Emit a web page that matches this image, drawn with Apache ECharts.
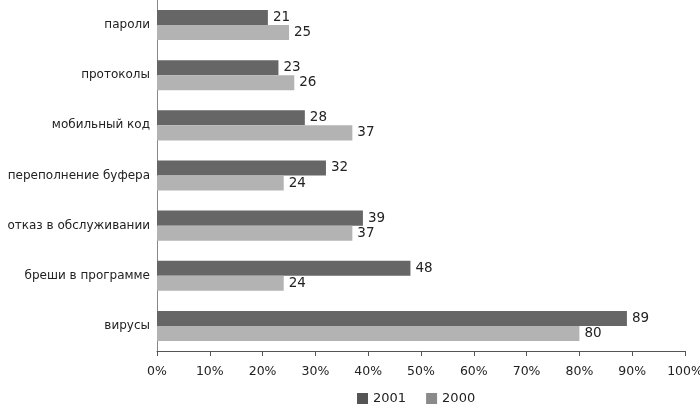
<!DOCTYPE html>
<html><head><meta charset="utf-8">
<script src="https://cdn.jsdelivr.net/npm/echarts@6/dist/echarts.min.js"></script>
<style>html,body{margin:0;padding:0;background:#fff}#c{width:700px;height:412px}</style>
</head><body><div id="c"></div>
<script>
const categories = ['пароли','протоколы','мобильный код','переполнение буфера','отказ в обслуживании','бреши в программе','вирусы'];
const values2001 = [21,23,28,32,39,48,89];
const values2000 = [25,26,37,24,37,24,80];
const xTicks = [0,10,20,30,40,50,60,70,80,90,100];
const font = '"DejaVu Sans", sans-serif';
const chart = echarts.init(document.getElementById('c'));
chart.setOption({
  animation:false,
  textStyle:{fontFamily:font},
  grid:{left:157,right:15,top:0,height:351,outerBoundsMode:'none',containLabel:false},
  legend:{bottom:2,left:352,itemWidth:11,itemHeight:11,itemGap:20,icon:'rect',
    textStyle:{fontFamily:font,fontSize:13,color:'#222'},
    data:[{name:'2001',itemStyle:{color:'#555555'}},{name:'2000',itemStyle:{color:'#8a8a8a'}}]},
  xAxis:{type:'value',min:xTicks[0],max:xTicks[xTicks.length-1],interval:10,
    axisLine:{show:true,lineStyle:{color:'#555'}},
    axisTick:{show:true,length:5,lineStyle:{color:'#555'}},
    splitLine:{show:false},
    axisLabel:{formatter:'{value}%',color:'#222',fontSize:12.5,margin:14,fontFamily:font}},
  yAxis:{type:'category',data:categories,inverse:true,
    axisLine:{lineStyle:{color:'#888'}},axisTick:{show:false},
    axisLabel:{color:'#222',fontSize:12,margin:7,fontFamily:font}},
  series:[
    {name:'2001',type:'bar',data:values2001,barGap:'0%',barCategoryGap:'40%',
     itemStyle:{color:'#666666'},
     label:{show:true,position:'right',color:'#222',fontSize:13.5,distance:5,fontFamily:font}},
    {name:'2000',type:'bar',data:values2000,barGap:'0%',barCategoryGap:'40%',
     itemStyle:{color:'#b3b3b3'},
     label:{show:true,position:'right',color:'#222',fontSize:13.5,distance:5,fontFamily:font}}
  ]
});
</script></body></html>
